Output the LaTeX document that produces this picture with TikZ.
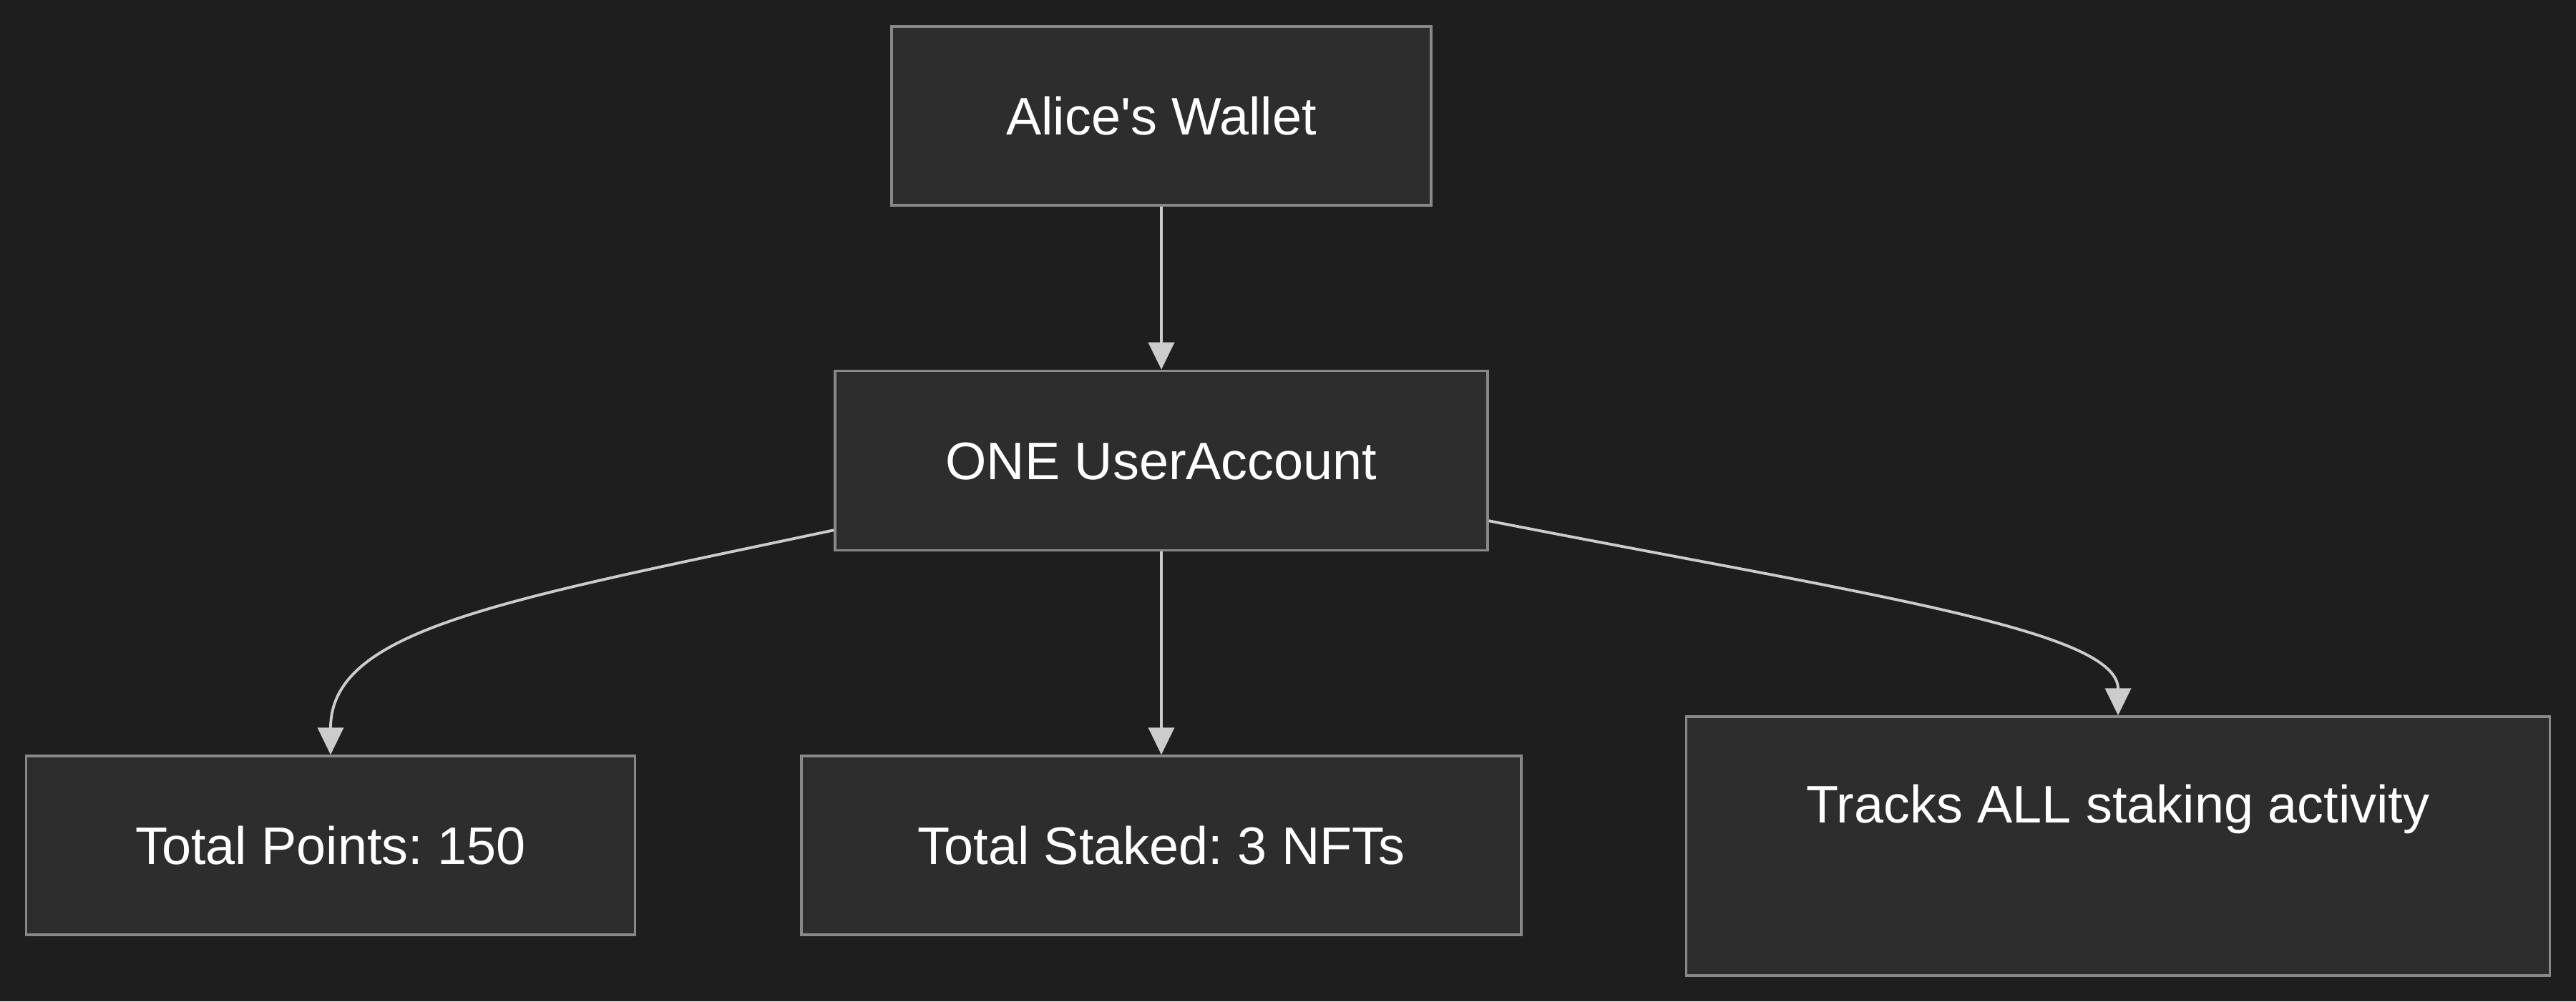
\documentclass[tikz,border=0pt]{standalone}
\usepackage{fontspec}
\setmainfont{Liberation Sans}
\usetikzlibrary{arrows.meta}
\frenchspacing

\definecolor{canvas}{HTML}{1E1E1E}
\definecolor{boxfill}{HTML}{2D2D2D}
\definecolor{boxline}{HTML}{888888}
\definecolor{wire}{HTML}{CCCCCC}

\tikzset{
    box/.style={draw=boxline, fill=boxfill, line width=1pt, inner sep=0pt,
        text=white, font=\fontsize{21}{25}\selectfont,
        text height=0.53cm, text depth=0cm},
    link/.style={draw=wire, line width=1.1pt,
        -{Triangle[length=0.38cm,width=0.36cm,fill=wire]}}
}

\begin{document}
\begin{tikzpicture}
    \fill [canvas] (0,0) rectangle (36,-14);
    \useasboundingbox (0,0) rectangle (36,-14);
    \path (16.23, -1.62) node [box, minimum width=7.54cm, minimum height=2.50cm] (wallet) {Alice\textquotesingle s Wallet};
    \path (16.23, -6.44) node [box, minimum width=9.12cm, minimum height=2.51cm] (account) {ONE UserAccount};
    \draw [link] (wallet) -- (account);
    \path ( 4.62,-11.82) node [box, minimum width=8.51cm, minimum height=2.50cm] (points) {Total Points: 150};
    \path (16.23,-11.82) node [box, minimum width=10.06cm, minimum height=2.50cm] (staked) {Total Staked: 3 NFTs};
    \path (29.60,-11.83) node [box, minimum width=12.07cm, minimum height=3.62cm, text depth=1.18cm] (tracks) {Tracks ALL staking activity};
    \draw [link] ([yshift=0.30cm]account.south west) .. controls (7.00,-8.40) and (4.62,-8.80) .. (points.north);
    \draw [link] (account) -- (staked);
    \draw [link] ([yshift=0.43cm]account.south east) .. controls (26.00,-8.30) and (29.60,-8.80) .. (tracks.north);
\end{tikzpicture}
\end{document}
